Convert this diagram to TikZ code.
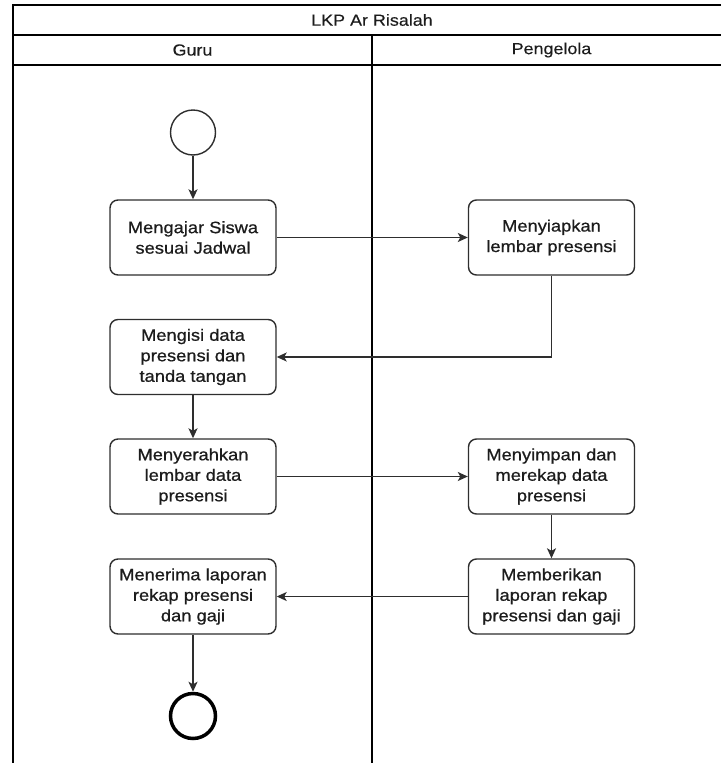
\documentclass[tikz,border=0pt]{standalone}
\usepackage{fontspec}
\setmainfont{Liberation Sans}[FakeStretch=1.12]
\newfontfamily\actfont{Liberation Sans}[FakeStretch=1.11, FakeBold=0.7]
\newfontfamily\headfont{Liberation Sans}[FakeStretch=1.12, FakeBold=0.3]
\usetikzlibrary{arrows.meta}

\definecolor{edge}{HTML}{2E2E2E}
\definecolor{ink}{HTML}{1C1C1C}

\tikzset{
  lane/.style={draw=black, line width=1.6pt},
  heading/.style={text=ink, font=\headfont\fontsize{16}{19}\selectfont, inner sep=0pt},
  activity/.style={draw=edge, line width=1.4pt, rounded corners=8pt, fill=white,
    minimum width=166pt, minimum height=75pt, inner sep=0pt, align=center,
    text=ink, font=\actfont\fontsize{16.5}{20.5}\selectfont},
  startstate/.style={circle, draw=edge, line width=1.4pt, minimum size=45pt, inner sep=0pt},
  endstate/.style={circle, draw=black, line width=3.5pt, minimum size=45pt, inner sep=0pt},
  flow/.style={draw=edge, line width=1.5pt,
    -{Stealth[length=10pt,width=9pt,inset=2.5pt]}},
}

\begin{document}
\begin{tikzpicture}[x=1pt, y=-1pt]
  \useasboundingbox (0,0) rectangle (721,763);

  % swimlane frame
  \draw[lane] (721,5) -- (13,5) -- (13,763);
  \draw[lane] (13,35) -- (721,35);
  \draw[lane] (13,65) -- (721,65);
  \draw[lane] (372,35) -- (372,763);

  \node[heading] (title) at (372,20) {LKP Ar Risalah};
  \node[heading] (guru) at (192.5,50) {Guru};
  \node[heading] (pengelola) at (551.5,50) {Pengelola};

  % states and activities
  \node[startstate] (start) at (193,132.5) {};
  \node[activity] (ajar) at (193,237.5) {Mengajar Siswa\\sesuai Jadwal};
  \node[activity] (siap) at (551.5,237.5) {Menyiapkan\\lembar presensi};
  \node[activity] (isi) at (193,357) {Mengisi data\\presensi dan\\tanda tangan};
  \node[activity] (serah) at (193,476.5) {Menyerahkan\\lembar data\\presensi};
  \node[activity] (simpan) at (551.5,476.5) {Menyimpan dan\\merekap data\\presensi};
  \node[activity] (beri) at (551.5,596.5) {Memberikan\\laporan rekap\\presensi dan gaji};
  \node[activity] (terima) at (193,596.5) {Menerima laporan\\rekap presensi\\dan gaji};
  \node[endstate] (end) at (193,716) {};

  % control flow
  \draw[flow] (start) -- (ajar);
  \draw[flow] (ajar) -- (siap);
  \draw[flow] (siap.south) |- (isi.east);
  \draw[flow] (isi) -- (serah);
  \draw[flow] (serah) -- (simpan);
  \draw[flow] (simpan) -- (beri);
  \draw[flow] (beri) -- (terima);
  \draw[flow] (terima) -- (end);
\end{tikzpicture}
\end{document}
